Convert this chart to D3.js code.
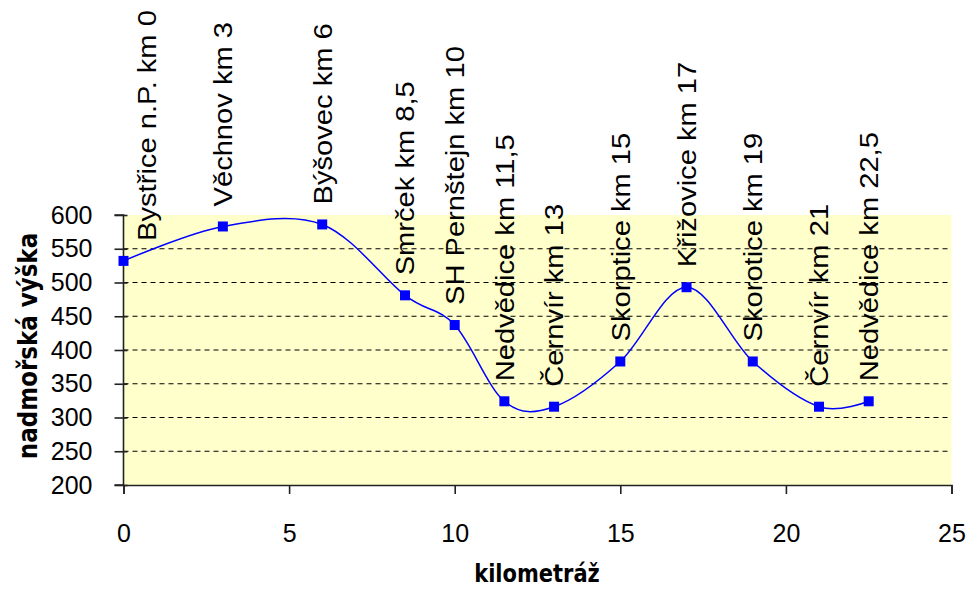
<!DOCTYPE html>
<html><head><meta charset="utf-8">
<script src="https://cdn.jsdelivr.net/npm/d3@7"></script>
<style>body{margin:0;background:#fff}svg{display:block}</style>
</head><body>
<script>
const kilometers = [0, 3, 6, 8.5, 10, 11.5, 13, 15, 17, 19, 21, 22.5];
const elevations = [532, 583, 586, 481, 437, 324, 316, 383, 493, 383, 316, 324];
const places = ["Bystřice n.P. km 0", "Věchnov km 3", "Býšovec km 6", "Smrček km 8,5", "SH Pernštejn km 10",
  "Nedvědice km 11,5", "Černvír km 13", "Skorptice km 15", "Křižovice km 17", "Skorotice km 19",
  "Černvír km 21", "Nedvědice km 22,5"];
const xTicks = [0, 5, 10, 15, 20, 25];
const yTicks = [200, 250, 300, 350, 400, 450, 500, 550, 600];
const xTitle = "kilometráž";
const yTitle = "nadmořská výška";

const W = 968, H = 589;
const svg = d3.select("body").append("svg").attr("width", W).attr("height", H);
const x = d3.scaleLinear().domain([0, 25]).range([123.5, 951.5]);
const y = d3.scaleLinear().domain([200, 600]).range([485, 215]);
const data = kilometers.map((k, i) => ({k, v: elevations[i], name: places[i]}));
const font = "'Liberation Sans', Arial, sans-serif";
const boldFont = "'DejaVu Sans', Verdana, sans-serif";

svg.append("rect").attr("x", x(0)).attr("y", y(600)).attr("width", x(25) - x(0)).attr("height", y(200) - y(600)).attr("fill", "#FFFFCC");

svg.append("g").selectAll("line").data(yTicks.filter(t => t > 200 && t < 600)).join("line")
  .attr("x1", x(0)).attr("x2", x(25)).attr("y1", d => y(d)).attr("y2", d => y(d))
  .attr("stroke", "#000").attr("stroke-width", 1.2).attr("stroke-dasharray", "5,4");

const yAxis = svg.append("g").attr("transform", `translate(${x(0)},0)`)
  .call(d3.axisLeft(y).tickValues(yTicks).tickSize(9).tickPadding(22).tickFormat(d3.format("d")));
const xAxis = svg.append("g").attr("transform", `translate(0,${y(200)})`)
  .call(d3.axisBottom(x).tickValues(xTicks).tickSize(9).tickPadding(30).tickFormat(d3.format("d")));
[yAxis, xAxis].forEach(g => {
  g.select(".domain").attr("stroke", "#222").attr("stroke-width", 1.6);
  g.selectAll(".tick line").attr("stroke", "#222").attr("stroke-width", 1.6);
  g.selectAll("text").attr("font-family", font).attr("font-size", 25).attr("fill", "#000");
});
yAxis.select(".domain").attr("d", `M-9,${y(600)}H0V${y(200)}H-9`);
yAxis.selectAll(".tick line").attr("x2", -9).attr("x1", 4);

const line = d3.line().x(d => x(d.k)).y(d => y(d.v)).curve(d3.curveCardinal.tension(0));
svg.append("path").datum(data).attr("d", line).attr("fill", "none").attr("stroke", "#0000FF").attr("stroke-width", 1.5);

svg.append("g").selectAll("rect").data(data).join("rect")
  .attr("x", d => x(d.k) - 5).attr("y", d => y(d.v) - 5).attr("width", 10).attr("height", 10).attr("fill", "#0000FF");

svg.append("g").selectAll("text").data(data).join("text")
  .attr("transform", d => `translate(${Math.max(x(d.k), x(0) + 23)},${y(d.v) - 20}) rotate(-90) scale(1.12,1)`)
  .attr("dy", "0.36em").attr("text-anchor", "start")
  .attr("font-family", font).attr("font-size", 26).attr("fill", "#000").text(d => d.name);

svg.append("text").attr("transform", "translate(537,582) scale(1,1.15)").attr("text-anchor", "middle")
  .attr("font-family", boldFont).attr("font-weight", "bold").attr("font-size", 21)
  .text(xTitle);
svg.append("text").attr("transform", `translate(37,${(y(200) + y(600)) / 2 - 4}) rotate(-90) scale(1,1.15)`)
  .attr("text-anchor", "middle")
  .attr("font-family", boldFont).attr("font-weight", "bold").attr("font-size", 23)
  .text(yTitle);
</script>
</body></html>
